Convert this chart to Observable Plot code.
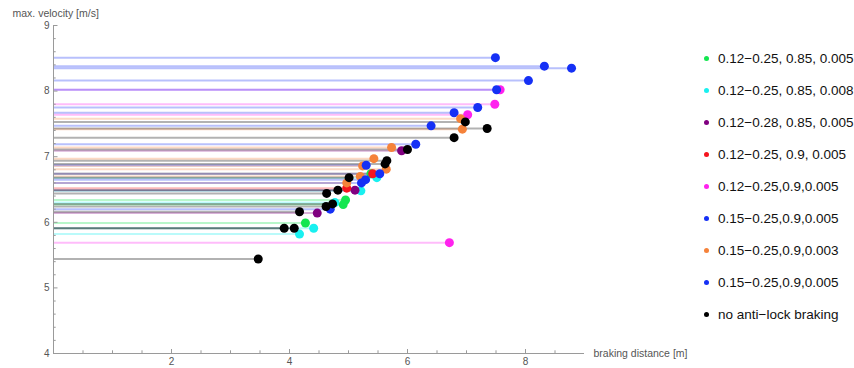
<!DOCTYPE html>
<html>
<head>
<meta charset="utf-8">
<script src="https://cdn.jsdelivr.net/npm/d3@7"></script>
<script src="https://cdn.jsdelivr.net/npm/@observablehq/plot@0.6"></script>
<style>
  html, body { margin: 0; padding: 0; background: #fff; }
  #wrap { position: relative; width: 854px; height: 368px; font-family: "Liberation Sans", Arial, sans-serif; }
  #legend { position: absolute; left: 702px; top: 42px; }
  .item { display: flex; align-items: center; height: 32px; font-size: 13.5px; color: #111; white-space: nowrap; }
  .sw { width: 5px; height: 5px; border-radius: 50%; margin-right: 9px; margin-left: 2px; }
</style>
</head>
<body>
<div id="wrap"></div>
<script>
// ---- data ----
const seriesLabels = [
  "0.12\u22120.25, 0.85, 0.005",
  "0.12\u22120.25, 0.85, 0.008",
  "0.12\u22120.28, 0.85, 0.005",
  "0.12\u22120.25, 0.9, 0.005",
  "0.12\u22120.25,0.9,0.005",
  "0.15\u22120.25,0.9,0.005",
  "0.15\u22120.25,0.9,0.003",
  "0.15\u22120.25,0.9,0.005",
  "no anti\u2212lock braking"
];
const distances = [
  [5.38, 4.95, 4.91, 4.27],
  [5.48, 5.21, 4.77, 4.41, 4.17],
  [5.90, 5.11, 4.47],
  [5.41, 4.97],
  [7.57, 7.48, 7.02, 6.71],
  [7.49, 8.32, 8.78, 8.05, 7.51, 7.19, 6.79],
  [6.90, 6.93, 5.73, 5.43, 5.24, 5.64, 5.20, 4.97],
  [6.40, 6.14, 5.30, 5.53, 5.29, 5.22, 4.69],
  [6.98, 7.35, 6.79, 6.00, 5.65, 5.62, 5.01, 4.82, 4.63, 4.73, 4.62, 4.17, 3.91, 4.08, 3.47]
];
const velocities = [
  [6.74, 6.34, 6.27, 5.99],
  [6.68, 6.48, 6.30, 5.91, 5.82],
  [7.09, 6.49, 6.14],
  [6.74, 6.52],
  [8.02, 7.80, 7.64, 5.69],
  [8.51, 8.38, 8.35, 8.16, 8.02, 7.75, 7.67],
  [7.58, 7.42, 7.14, 6.97, 6.86, 6.81, 6.70, 6.60],
  [7.47, 7.19, 6.87, 6.74, 6.65, 6.60, 6.20],
  [7.53, 7.43, 7.29, 7.11, 6.94, 6.89, 6.68, 6.49, 6.44, 6.28, 6.24, 6.16, 5.91, 5.91, 5.44]
];
const xMajorTicks = [2, 4, 6, 8];
const xMinorTicks = [0.5, 1, 1.5, 2.5, 3, 3.5, 4.5, 5, 5.5, 6.5, 7, 7.5, 8.5];
const yMajorTicks = [4, 5, 6, 7, 8, 9];
const xLabel = "braking distance [m]";
const yLabel = "max. velocity [m/s]";

// ---- styles ----
const palette = ["#14e650", "#19f0f0", "#800080", "#f5141e", "#ff22ee", "#1530f5", "#f5823a", "#1530f5", "#000000"];

const seriesIds = seriesLabels.map((_, i) => String(i));
const rows = [];
distances.forEach((ds, s) => ds.forEach((d, j) => rows.push({s: String(s), d, v: velocities[s][j]})));

const yMinorTicks = d3.range(4.2, 9, 0.2).map(v => +v.toFixed(1)).filter(v => !yMajorTicks.includes(v));

const axisColor = "#9a9a9a";
const labelColor = "#555";
const intFmt = d3.format("d");

const plot = Plot.plot({
  width: 854,
  height: 368,
  marginLeft: 53,
  marginRight: 270,
  marginTop: 25,
  marginBottom: 15,
  style: {fontFamily: "'Liberation Sans', Arial, sans-serif", background: "white"},
  x: {domain: [0, 9]},
  y: {domain: [4, 9]},
  color: {domain: seriesIds, range: palette},
  marks: [
    Plot.ruleY(rows, {y: "v", x1: 0, x2: "d", stroke: "s", strokeOpacity: 0.3, strokeWidth: 2}),
    // axis lines
    Plot.ruleY([4], {x1: 0, x2: 9, stroke: axisColor, strokeWidth: 1}),
    Plot.ruleX([0], {y1: 4, y2: 9, stroke: axisColor, strokeWidth: 1}),
    // x ticks (inward)
    Plot.axisX({ticks: xMinorTicks, tickSize: 2.7, dy: -2.7, tickFormat: () => "", label: null, stroke: axisColor}),
    Plot.axisX({ticks: xMajorTicks, tickSize: 4, dy: -4, tickFormat: () => "", label: null, stroke: axisColor}),
    Plot.axisX({ticks: xMajorTicks, tickSize: 0, tickPadding: 4, tickFormat: intFmt, label: null, fill: labelColor, fontSize: 10}),
    // y ticks (inward)
    Plot.axisY({ticks: yMinorTicks, tickSize: 2.7, dx: 2.7, tickFormat: () => "", label: null, stroke: axisColor}),
    Plot.axisY({ticks: yMajorTicks, tickSize: 4.5, dx: 4.5, tickFormat: () => "", label: null, stroke: axisColor}),
    Plot.axisY({ticks: yMajorTicks, tickSize: 0, tickPadding: 4, tickFormat: intFmt, label: null, fill: labelColor, fontSize: 10}),
    // points
    Plot.dot(rows, {x: "d", y: "v", fill: "s", r: 4.5, stroke: null}),
    // axis labels
    Plot.text([yLabel], {frameAnchor: "top-left", textAnchor: "start", lineAnchor: "middle", dx: -41, dy: -12, fill: labelColor, fontSize: 10.5}),
    Plot.text([xLabel], {frameAnchor: "bottom-right", textAnchor: "start", lineAnchor: "middle", dx: 9, fill: labelColor, fontSize: 10.5})
  ]
});

const wrap = document.getElementById("wrap");
wrap.appendChild(plot);

const legend = document.createElement("div");
legend.id = "legend";
seriesLabels.forEach((lab, i) => {
  const it = document.createElement("div");
  it.className = "item";
  const sw = document.createElement("span");
  sw.className = "sw";
  sw.style.background = palette[i];
  const tx = document.createElement("span");
  tx.textContent = lab;
  it.appendChild(sw);
  it.appendChild(tx);
  legend.appendChild(it);
});
wrap.appendChild(legend);
</script>
</body>
</html>
